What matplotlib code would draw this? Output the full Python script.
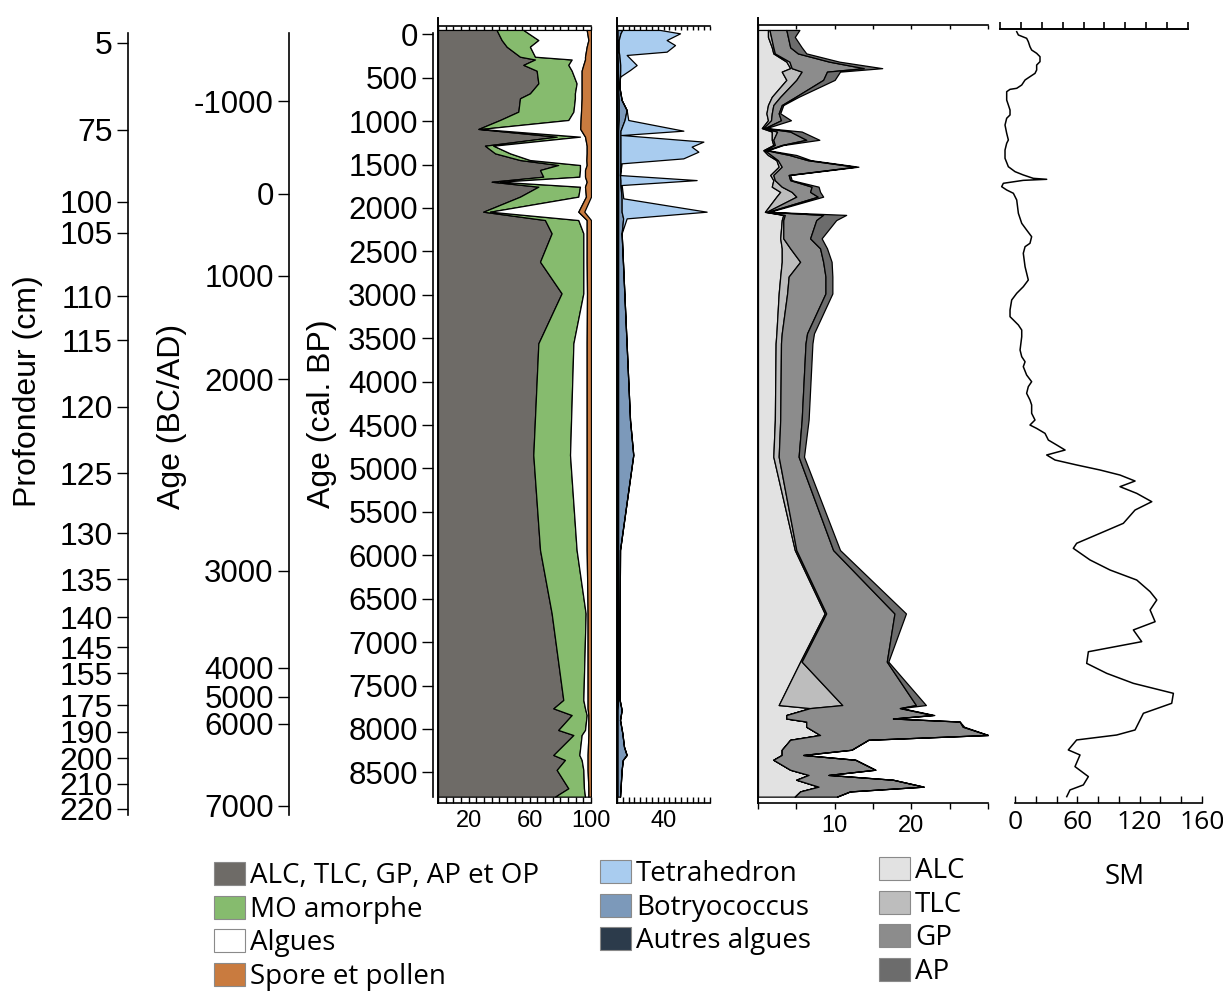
import numpy as np
import matplotlib
matplotlib.use("Agg")
import matplotlib.pyplot as plt
from matplotlib.patches import Patch
from matplotlib.ticker import MultipleLocator, FixedLocator, FuncFormatter, NullFormatter, NullLocator

plt.rcParams['font.family'] = ['Liberation Sans', 'DejaVu Sans']

W, H = 1223, 994

# -------- ÉCHELLES DE GAUCHE --------
prof_cm = [5, 75, 100, 105, 110, 115, 120, 125, 130, 135, 140, 145, 155, 175, 190, 200, 210, 220]
prof_age_bp = [100, 1102, 1931, 2288, 3015, 3521, 4292, 5053, 5744, 6274, 6711, 7057, 7357, 7726, 8035, 8335, 8634, 8922]

bcad = [-1000, 0, 1000, 2000, 3000, 4000, 5000, 6000, 7000]
bcad_age_bp = [769, 1839, 2783, 3970, 6181, 7298, 7632, 7943, 8887]

bp_ticks = list(range(0, 9000, 500))

# -------- PANNEAU 1 : palynofaciès (%) --------
ages1 = [-50, 66, 143, 258, 290, 352, 419, 565, 680, 737, 891, 987, 1090, 1179, 1283, 1371,
         1448, 1505, 1563, 1640, 1698, 1755, 1870, 2043, 2139, 2292, 2619, 2983, 3559, 4845,
         5939, 6669, 7667, 7763, 7840, 8012, 8070, 8300, 8357, 8472, 8684, 8780]
alc_op = [38.3, 41.6, 44.9, 53.6, 63.4, 55.8, 64.5, 65.6, 60.1, 53.6, 52.5, 40.5, 26.4, 77.6, 30.7, 37.3,
          53.6, 78.6, 66.7, 68.8, 35.1, 65.6, 53.6, 29.6, 69.9, 74.3, 66.7, 80.8, 65.6, 62.3,
          66.7, 74.3, 81.9, 75.4, 87.4, 78.6, 88.5, 75.4, 83.0, 77.6, 85.2, 76.5]
mo_amorphe = [17.5, 24.0, 15.2, 9.8, 24.0, 29.4, 22.9, 25.0, 29.4, 35.9, 36.0, 44.7, 1.6, 15.2, 5.5, 9.8,
              6.5, 14.2, 26.1, 23.6, 5.4, 27.2, 38.1, 4.4, 21.8, 20.7, 28.3, 14.2, 22.9, 24.0,
              23.9, 22.2, 13.1, 20.7, 9.8, 17.5, 5.4, 17.0, 10.9, 17.4, 10.2, 19.6]
algues = [41.4, 32.7, 37.1, 32.7, 8.7, 9.8, 6.5, 3.3, 4.4, 4.4, 5.0, 8.0, 65.0, 3.3, 61.0, 50.1,
          36.9, 4.4, 3.3, 3.7, 56.7, 3.3, 5.0, 57.7, 5.5, 2.2, 2.2, 2.4, 8.7, 10.9,
          6.6, 1.3, 2.8, 1.7, 1.1, 2.2, 4.4, 5.4, 3.9, 2.8, 2.9, 2.2]
spore_pollen = [2.8, 1.7, 2.8, 3.9, 3.9, 5.0, 6.1, 6.1, 6.1, 6.1, 6.5, 6.8, 7.0, 3.9, 2.8, 2.8,
                3.0, 2.8, 3.9, 3.9, 2.8, 3.9, 3.3, 3.9, 2.8, 2.8, 2.8, 2.6, 2.8, 2.8,
                2.8, 2.2, 2.2, 2.2, 1.7, 1.7, 1.7, 2.2, 2.2, 2.2, 1.7, 1.7]

# -------- PANNEAU 2 : algues (%) --------
ages2 = [-50, -11, 66, 124, 200, 238, 354, 411, 488, 603, 757, 872, 987, 1110, 1160, 1236,
         1294, 1352, 1429, 1486, 1621, 1679, 1736, 1889, 2043, 2120, 2292, 4442, 4845, 5939,
         6669, 7667, 7782, 7897, 8050, 8204, 8300, 8357, 8472, 8780]
autres_algues = [0.5, 0.5, 0.5, 0.5, 0.5, 0.5, 0.8, 0.8, 1.0, 1.0, 1.5, 1.5, 1.5, 1.0, 1.0, 1.0,
                 1.0, 1.0, 1.0, 1.0, 1.0, 1.0, 1.0, 1.0, 1.0, 1.0, 1.0, 1.0, 1.0, 1.0,
                 1.0, 1.0, 0.5, 0.5, 0.5, 0.5, 0.5, 0.5, 0.5, 0.5]
botryococcus = [4.0, 2.5, 1.0, 1.0, 1.0, 1.5, 2.0, 2.0, 1.6, 1.0, 2.5, 6.8, 5.0, 2.0, 2.0, 2.0,
                2.0, 2.0, 2.0, 2.0, 1.6, 2.0, 2.0, 3.0, 3.0, 4.3, 3.0, 10.2, 13.0, 1.6,
                1.3, 1.3, 3.5, 2.1, 4.1, 5.5, 7.8, 4.5, 3.5, 2.1]
tetrahedron = [32.5, 51.2, 41.2, 48.4, 41.2, 6.3, 14.1, 8.4, 0.0, 0.0, 0.0, 0.0, 3.2, 54.1, 1.0, 71.3,
               61.2, 67.0, 54.0, 1.0, 0.0, 65.5, 1.0, 1.4, 73.1, 3.0, 0.0, 0.0, 0.0, 0.0,
               0.0, 0.0, 0.0, 0.0, 0.0, 0.0, 0.0, 0.0, 0.0, 0.0]

# -------- PANNEAU 3 : ALC, TLC, GP, AP (%) --------
ages3 = [-50, 30, 150, 220, 315, 390, 430, 525, 720, 815, 910, 990, 1080, 1120, 1215, 1275,
         1335, 1390, 1450, 1525, 1620, 1680, 1755, 1815, 1870, 2045, 2080, 2140, 2350, 2465,
         2620, 2790, 2985, 3445, 3560, 4440, 4865, 5940, 6670, 7225, 7725, 7760, 7840, 7880,
         7915, 7975, 8070, 8125, 8240, 8300, 8355, 8470, 8530, 8585, 8665, 8720, 8780]
alc = [1.3, 1.3, 1.8, 2.0, 3.7, 4.2, 3.1, 3.7, 1.8, 1.3, 1.1, 1.3, 0.5, 1.8, 1.8, 2.0,
       0.7, 1.3, 2.4, 2.7, 1.6, 2.0, 1.8, 2.9, 2.4, 0.9, 3.3, 3.1, 2.9, 3.1,
       3.1, 2.9, 2.7, 2.4, 2.3, 2.2, 2.0, 4.8, 8.7, 5.5, 2.7, 6.8, 3.7, 3.7,
       6.3, 6.3, 8.1, 4.2, 3.1, 3.1, 2.0, 4.2, 6.6, 5.0, 7.9, 5.5, 4.8]
tlc = [0.2, 0.4, 0.2, 0.2, 0.4, 0.2, 2.6, 1.3, 1.1, 0.7, 0.7, 0.4, 0.2, 0.7, 0.2, 0.2,
       0.2, 0.4, 0.2, 0.4, 0.4, 0.2, 1.3, 1.5, 2.6, 0.2, 0.2, 0.2, 0.4, 1.1,
       2.4, 1.1, 1.1, 0.7, 0.7, 0.7, 0.7, 0.2, 0.2, 0.2, 8.3, 0.0, 0.0, 0.0,
       0.0, 0.0, 0.0, 0.0, 0.0, 0.0, 0.0, 0.0, 0.0, 0.0, 0.0, 0.0, 0.0]
gp = [2.2, 2.2, 2.2, 3.0, 5.2, 9.4, 3.3, 3.5, 2.0, 1.1, 0.9, 1.3, 0.2, 1.7, 4.3, 0.9,
      0.2, 2.4, 3.9, 9.6, 2.0, 2.0, 3.9, 2.4, 2.8, 0.2, 5.0, 4.3, 3.5, 3.9,
      3.0, 4.8, 5.0, 3.3, 3.2, 2.8, 2.6, 4.8, 8.9, 11.1, 9.6, 11.7, 19.1, 13.9,
      20.0, 20.4, 21.9, 10.2, 9.1, 2.8, 10.7, 11.1, 2.6, 12.6, 13.7, 6.5, 5.5]
ap = [1.7, 0.9, 1.5, 1.1, 1.3, 2.4, 1.7, 1.5, 0.4, 0.2, 0.2, 1.3, 0.2, 1.5, 1.7, 0.2,
      0.2, 0.9, 0.4, 0.4, 0.2, 0.2, 0.9, 1.3, 0.7, 0.2, 3.0, 2.6, 1.5, 0.9,
      1.1, 0.9, 0.9, 0.9, 0.9, 0.9, 0.7, 0.9, 1.5, 0.2, 1.3, 0.2, 0.2, 0.0,
      0.0, 0.2, 0.0, 0.0, 0.0, 0.0, 0.0, 0.0, 0.0, 0.0, 0.0, 0.0, 0.0]

# -------- PANNEAU 4 : susceptibilité magnétique (SM) --------
sm_ages = [-30, 8, 46, 85, 143, 181, 219, 258, 315, 354, 411, 450, 488, 526, 584, 622, 634, 661,
           757, 814, 872, 929, 967, 1045, 1140, 1217, 1255, 1333, 1428, 1525, 1582, 1620, 1659,
           1670, 1682, 1716, 1755, 1793, 1831, 1908, 2062, 2177, 2254, 2331, 2407, 2446, 2522,
           2677, 2830, 2907, 2983, 3060, 3175, 3252, 3290, 3348, 3406, 3483, 3636, 3713, 3771,
           3828, 3924, 4001, 4058, 4135, 4212, 4269, 4365, 4442, 4500, 4539, 4596, 4673, 4730,
           4788, 4845, 4903, 4960, 5018, 5076, 5145, 5210, 5287, 5383, 5479, 5632, 5747, 5862,
           5920, 6054, 6170, 6285, 6419, 6515, 6630, 6765, 6860, 6995, 7111, 7245, 7360, 7475,
           7590, 7705, 7820, 8012, 8070, 8127, 8242, 8300, 8434, 8549, 8645, 8703, 8780]
sm_vals = [16.0, 17.6, 25.5, 27.1, 28.7, 30.3, 35.1, 38.3, 38.3, 35.1, 35.1, 33.5, 28.7, 24.0,
           20.8, 16.0, 9.6, 6.4, 6.4, 8.0, 9.6, 9.6, 6.4, 4.8, 6.4, 8.0, 6.4, 4.8, 4.8, 8.0,
           14.4, 22.3, 31.9, 44.7, 22.3, 3.2, 1.6, 6.4, 12.8, 16.0, 17.6, 20.8, 25.5, 30.3,
           28.7, 24.0, 22.3, 24.0, 27.1, 22.3, 16.0, 11.2, 9.6, 9.6, 12.8, 17.6, 20.8, 20.8,
           19.2, 20.8, 24.0, 22.3, 25.5, 30.3, 27.1, 25.5, 28.7, 30.3, 30.3, 33.5, 28.7, 35.1,
           43.1, 46.3, 54.3, 62.3, 44.7, 52.7, 73.4, 95.8, 114.9, 129.3, 114.9, 130.9, 145.3,
           129.3, 118.1, 95.8, 73.4, 70.2, 86.2, 105.4, 130.9, 143.7, 150.1, 143.7, 148.5,
           127.7, 135.7, 84.6, 83.0, 102.2, 127.7, 166.0, 164.4, 137.3, 129.3, 111.7, 73.4,
           65.4, 76.6, 71.8, 84.6, 79.8, 67.0, 63.9]

# -------- LÉGENDES --------
leg1_labels = ['ALC, TLC, GP, AP et OP', 'MO amorphe', 'Algues', 'Spore et pollen']
leg1_colors = ['#6e6b67', '#86bb6e', '#ffffff', '#c97b3f']
leg2_labels = ['Tetrahedron', 'Botryococcus', 'Autres algues']
leg2_colors = ['#a9ccef', '#7c99ba', '#2c3b4b']
leg3_labels = ['ALC', 'TLC', 'GP', 'AP']
leg3_colors = ['#e2e2e2', '#bdbdbd', '#8c8c8c', '#6c6c6c']


# -------- OUTILS DE MISE EN PAGE --------
def age_px(y):
    # calage vertical commun (âge cal. BP) en fonction de la position en pixels
    return (y - 34.3) * 11.517


def rect(x0, y0, x1, y1):
    return [x0 / W, 1 - y1 / H, (x1 - x0) / W, (y1 - y0) / H]


def stack(ax, ages, series, colors):
    left = np.zeros(len(ages))
    for vals, col in zip(series, colors):
        right = left + np.asarray(vals, dtype=float)
        ax.fill_betweenx(ages, left, right, facecolor=col, edgecolor='black', linewidth=0.9)
        left = right


fig = plt.figure(figsize=(W / 100, H / 100), dpi=100)

PT, PB = 18, 802.7


def panel(x0, x1, xmax, top_y, bottom_dir, labels, step=5):
    ax = fig.add_axes(rect(x0, PT, x1, PB))
    ax.set_xlim(0, xmax)
    ax.set_ylim(age_px(PB), age_px(PT))
    for s in ('top', 'right'):
        ax.spines[s].set_visible(False)
    ax.spines['left'].set_linewidth(1.4)
    ax.spines['bottom'].set_linewidth(1.2)
    ax.yaxis.set_major_locator(NullLocator())
    ax.xaxis.set_major_locator(MultipleLocator(step))
    ax.xaxis.set_major_formatter(FuncFormatter(
        lambda v, _: f"{v:.0f}" if round(v) in labels else ""))
    ax.tick_params(axis='x', direction=bottom_dir, length=4, width=1, labelsize=17, pad=5)
    sec = ax.secondary_xaxis((PB - top_y) / (PB - PT))
    sec.xaxis.set_major_locator(MultipleLocator(step))
    sec.xaxis.set_major_formatter(NullFormatter())
    sec.tick_params(direction='in', length=3, width=1)
    sec.spines['top'].set_linewidth(1.2)
    return ax


ax1 = panel(438, 591, 100, 26, 'in', (20, 60, 100))
stack(ax1, ages1, [alc_op, mo_amorphe, algues, spore_pollen], leg1_colors)

ax2 = panel(617, 710, 80, 26, 'in', (40,))
stack(ax2, ages2, [autres_algues, botryococcus, tetrahedron], leg2_colors[::-1])

ax3 = panel(758, 988, 30, 25, 'out', (10, 20))
stack(ax3, ages3, [alc, tlc, gp, ap], leg3_colors)

# SM
ax4 = fig.add_axes(rect(1000, PT, 1188, PB))
ax4.set_xlim(0, 180)
ax4.set_ylim(age_px(PB), age_px(PT))
ax4.axis('off')
ax4.plot(sm_vals, sm_ages, color='black', linewidth=1.1)
sec4 = ax4.secondary_xaxis((PB - 29) / (PB - PT))
sec4.xaxis.set_major_locator(MultipleLocator(20))
sec4.xaxis.set_major_formatter(NullFormatter())
sec4.tick_params(direction='out', length=5, width=1.2)
sec4.spines['top'].set_linewidth(1.4)

ax4b = fig.add_axes(rect(1015, PT, 1202, PB))
ax4b.set_xlim(0, 180)
ax4b.patch.set_visible(False)
for s in ('top', 'right', 'left'):
    ax4b.spines[s].set_visible(False)
ax4b.spines['bottom'].set_linewidth(1.2)
ax4b.yaxis.set_major_locator(NullLocator())
ax4b.xaxis.set_major_locator(MultipleLocator(20))
sm_tick_text = {0: '0', 60: '60', 120: '120', 180: '160'}
ax4b.xaxis.set_major_formatter(FuncFormatter(lambda v, _: sm_tick_text.get(int(round(v)), '')))
ax4b.tick_params(axis='x', direction='in', length=5, width=1, labelsize=19, pad=5)
for t in ax4b.get_xticklabels():
    t.set_family('Open Sans')


# axes de gauche
def left_axis(x, y_end, ticks, labels, size):
    ax = fig.add_axes(rect(x, PT, x + 1, 815))
    ax.set_ylim(age_px(815), age_px(PT))
    ax.patch.set_visible(False)
    for s in ('top', 'right', 'bottom'):
        ax.spines[s].set_visible(False)
    ax.spines['left'].set_linewidth(1.2)
    ax.spines['left'].set_bounds(age_px(33), age_px(y_end))
    ax.xaxis.set_major_locator(NullLocator())
    ax.yaxis.set_major_locator(FixedLocator(ticks))
    ax.set_yticklabels([str(v) for v in labels])
    ax.tick_params(axis='y', direction='out', length=8, width=1, labelsize=size, pad=3)
    return ax


left_axis(128, 815, prof_age_bp, prof_cm, 23)
left_axis(289, 815, bcad_age_bp, bcad, 22.5)
left_axis(433, 797, bp_ticks, bp_ticks, 22.5)

fig.text(28 / W, 1 - 391 / H, 'Profondeur (cm)', rotation=90, ha='center', va='center', fontsize=23)
fig.text(172 / W, 1 - 416 / H, 'Age (BC/AD)', rotation=90, ha='center', va='center', fontsize=23)
fig.text(322 / W, 1 - 414 / H, 'Age (cal. BP)', rotation=90, ha='center', va='center', fontsize=23)

# légendes
leg_prop = {'family': 'Open Sans', 'size': 20}


def legend(labels, colors, x, y):
    handles = [Patch(facecolor=c, edgecolor='#8a8a8a', linewidth=0.8) for c in colors]
    fig.legend(handles, labels, loc='upper left', bbox_to_anchor=(x / W, 1 - y / H),
               frameon=False, prop=leg_prop, handlelength=1.1, handleheight=0.9,
               handletextpad=0.2, labelspacing=0.2, borderpad=0, borderaxespad=0)


legend(leg1_labels, leg1_colors, 214, 862)
legend(leg2_labels, leg2_colors, 600, 860)
legend(leg3_labels, leg3_colors, 879, 857)
fig.text(1125 / W, 1 - 877 / H, 'SM', ha='center', va='center', fontsize=20, family='Open Sans')

fig.savefig('out.png', dpi=100)
